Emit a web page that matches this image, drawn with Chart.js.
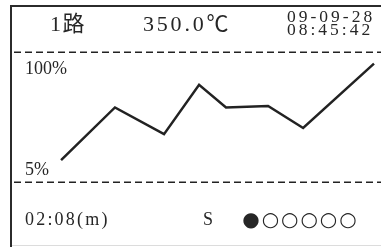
<!DOCTYPE html>
<html>
<head>
<meta charset="utf-8">
<script src="https://cdn.jsdelivr.net/npm/chart.js@4/dist/chart.umd.min.js"></script>
<style>
  html, body { margin: 0; padding: 0; background: #fff; }
  #wrap { width: 381px; height: 247px; position: relative; }
</style>
</head>
<body>
<div id="wrap"><canvas id="lcd" width="381" height="247"></canvas></div>
<script>
// sample positions along the record (0-100 of the window) and level in %
const sampleX = [13.3, 27.9, 41.2, 50.7, 58.0, 69.4, 78.9, 98.1]
const levels = [21, 59.5, 40, 76, 59.5, 60.5, 44.5, 91.5]
const yTicks = [100, 5]
const channel = "1路"
const temperature = "350.0℃"
const dateText = "09-09-28"
const timeText = "08:45:42"
const elapsed = "02:08(m)"
const modeText = "S"
const stepState = [1, 0, 0, 0, 0, 0]

const SERIF = "'Liberation Serif', 'Noto Sans CJK SC', serif"

const lcdFrame = {
    id: "lcdFrame",
    beforeDraw(chart) {
        const c = chart.ctx
        const ys = chart.scales.y
        const a = chart.chartArea
        c.save()
        // outer frame: top and left edges
        c.fillStyle = "#2b2b2b"
        c.fillRect(10, 5, 371, 2)
        c.fillRect(10, 5, 2, 242)
        c.fillStyle = "#dcdcdc"
        c.fillRect(12, 245, 369, 1)
        // dashed separators at the axis limits
        c.strokeStyle = "#222"
        c.lineWidth = 1.5
        c.setLineDash([7, 4])
        for (const v of yTicks) {
            const py = Math.round(ys.getPixelForValue(v)) + 0.25
            c.beginPath()
            c.moveTo(a.left + 2, py)
            c.lineTo(381, py)
            c.stroke()
        }
        c.restore()
    },
    afterDraw(chart) {
        const c = chart.ctx
        const ys = chart.scales.y
        c.save()
        c.fillStyle = "#262626"
        c.textBaseline = "middle"
        c.textAlign = "left"

        c.font = "22px " + SERIF
        c.letterSpacing = "1.5px"
        c.fillText(channel, 50, 25)
        c.letterSpacing = "2.8px"
        c.fillText(temperature, 143, 25)

        c.font = "17.5px " + SERIF
        c.letterSpacing = "3px"
        c.fillText(dateText, 287, 17.5)
        c.fillText(timeText, 287, 30)

        // range labels sit just inside the dashed lines
        c.font = "18px " + SERIF
        c.letterSpacing = "0px"
        c.fillText(yTicks[0] + "%", 25, ys.getPixelForValue(yTicks[0]) + 17)
        c.fillText(yTicks[1] + "%", 25, ys.getPixelForValue(yTicks[1]) - 12)

        c.letterSpacing = "2.2px"
        c.fillText(elapsed, 25, 220)
        c.letterSpacing = "0px"
        c.fillText(modeText, 203, 220)

        // step indicators
        c.textAlign = "center"
        c.font = "20px 'DejaVu Sans', sans-serif"
        stepState.forEach((on, i) => {
            c.fillText(on ? "●" : "○", 251 + i * 19.4, 221)
        })
        c.restore()
    }
}

new Chart(document.getElementById("lcd"), {
    type: "line",
    data: {
        datasets: [{
            data: sampleX.map((x, i) => ({x: x, y: levels[i]})),
            borderColor: "#222",
            borderWidth: 2.5,
            pointRadius: 0,
            tension: 0,
            fill: false
        }]
    },
    options: {
        responsive: false,
        animation: false,
        devicePixelRatio: 1,
        layout: {padding: {left: 12, right: 0, top: 52, bottom: 65}},
        plugins: {legend: {display: false}, tooltip: {enabled: false}},
        scales: {
            x: {type: "linear", min: 0, max: 100, display: false},
            y: {min: 5, max: 100, display: false}
        },
        clip: false
    },
    plugins: [lcdFrame]
})
</script>
</body>
</html>
